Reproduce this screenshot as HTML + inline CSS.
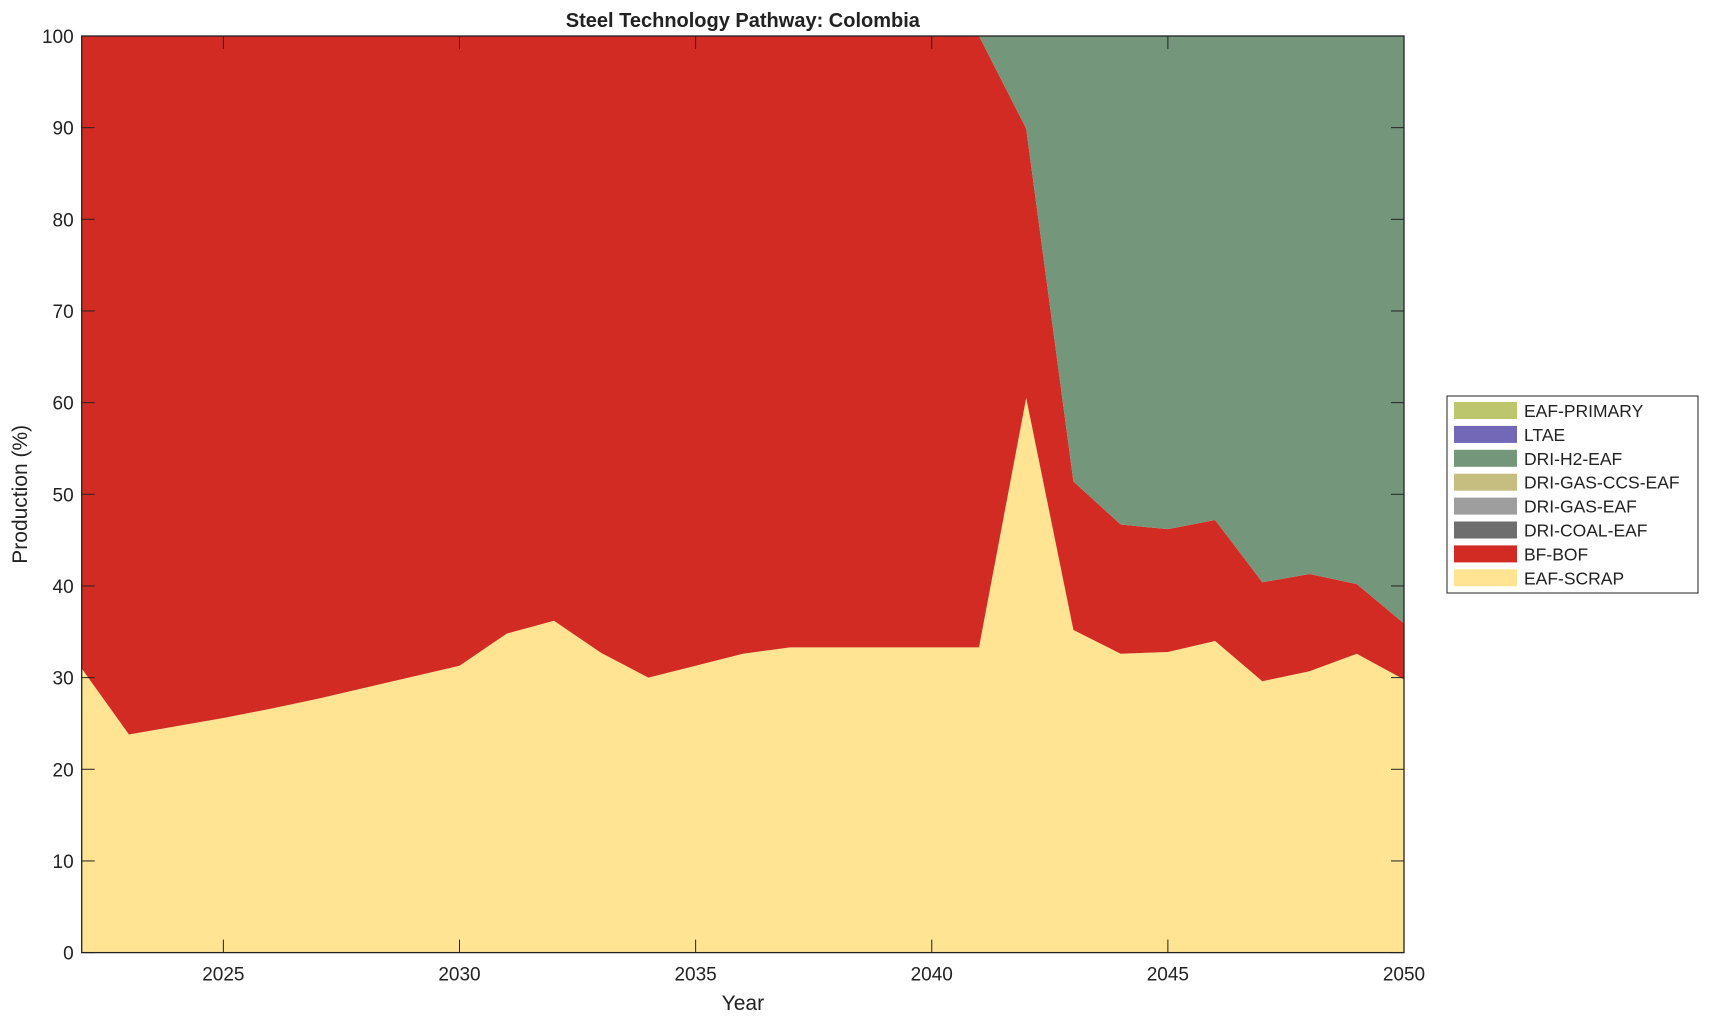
<!DOCTYPE html>
<html><head><meta charset="utf-8"><style>
body{margin:0;background:#fff;font-family:"Liberation Sans",Arial,sans-serif}
svg text{font-family:"Liberation Sans",Arial,sans-serif;fill:#222}
</style></head><body>
<svg id="c" width="1709" height="1021"></svg>
<script>
const years=[2022,2023,2024,2025,2026,2027,2028,2029,2030,2031,2032,2033,2034,2035,2036,2037,2038,2039,2040,2041,2042,2043,2044,2045,2046,2047,2048,2049,2050];
const eafScrap=[31,23.8,24.7,25.6,26.6,27.7,28.9,30.1,31.3,34.8,36.2,32.7,30,31.3,32.6,33.3,33.3,33.3,33.3,33.3,60.5,35.2,32.6,32.8,34,29.6,30.7,32.6,29.8];
const bfBof=[69,76.2,75.3,74.4,73.4,72.3,71.1,69.9,68.7,65.2,63.8,67.3,70,68.7,67.4,66.7,66.7,66.7,66.7,66.7,29.4,16.2,14.1,13.4,13.2,10.8,10.6,7.6,6.1];
const driH2=years.map((y,i)=>100-eafScrap[i]-bfBof[i]);
const xTicks=[2025,2030,2035,2040,2045,2050];
const yTicks=[0,10,20,30,40,50,60,70,80,90,100];
const legendLabels=["EAF-PRIMARY","LTAE","DRI-H2-EAF","DRI-GAS-CCS-EAF","DRI-GAS-EAF","DRI-COAL-EAF","BF-BOF","EAF-SCRAP"];
const legendColors=["#bcc66c","#7368b8","#74977c","#c6bd80","#9e9e9e","#6e6e6e","#d22b24","#fee493"];
const L=81.7,R=1404,T=36,B=952.6;
const sx=v=>L+(v-2022)/(2050-2022)*(R-L);
const sy=v=>B-v/100*(B-T);
const svg=document.getElementById('c');const NS='http://www.w3.org/2000/svg';
function el(t,a){const e=document.createElementNS(NS,t);for(const k in a)e.setAttribute(k,a[k]);svg.appendChild(e);return e;}
function area(lo,hi,color,name){
 let d='M'+years.map((y,i)=>sx(y)+','+sy(hi[i])).join('L');
 for(let i=years.length-1;i>=0;i--)d+='L'+sx(years[i])+','+sy(lo[i]);
 const p=el('path',{d:d+'Z',fill:color});
 
 
}
const z=years.map(()=>0);
const c1=eafScrap.slice();
const c2=years.map((y,i)=>eafScrap[i]+bfBof[i]);
const c3=years.map((y,i)=>c2[i]+driH2[i]);
area(z,c1,"#fee493","area-eaf-scrap");
area(c1,c2,"#d22b24","area-bf-bof");
area(c2,c3,"#74977c","area-dri-h2-eaf");
const f=el('rect',{x:L,y:T,width:R-L,height:B-T,fill:'none',stroke:'#222','stroke-width':1.3});

xTicks.forEach(v=>{
 el('line',{x1:sx(v),x2:sx(v),y1:B,y2:B-13,stroke:'#222'});el('line',{x1:sx(v),x2:sx(v),y1:T,y2:T+13,stroke:'#222'});
 const t=el('text',{x:sx(v),y:B+28,'text-anchor':'middle','font-size':19});t.textContent=v;
 
});
yTicks.forEach(v=>{
 el('line',{x1:L,x2:L+13,y1:sy(v),y2:sy(v),stroke:'#222'});el('line',{x1:R,x2:R-13,y1:sy(v),y2:sy(v),stroke:'#222'});
 const t=el('text',{x:L-8,y:sy(v)+7,'text-anchor':'end','font-size':19});t.textContent=v;
 
});
let t=el('text',{x:(L+R)/2,y:27,'text-anchor':'middle','font-size':20,'font-weight':'bold'});t.textContent='Steel Technology Pathway: Colombia';

t=el('text',{x:(L+R)/2,y:1010,'text-anchor':'middle','font-size':21});t.textContent='Year';

t=el('text',{x:0,y:0,'text-anchor':'middle','font-size':21,transform:'translate(27,'+(T+B)/2+') rotate(-90)'});t.textContent='Production (%)';

const lg=el('rect',{x:1447,y:396,width:251,height:197,fill:'#fff',stroke:'#222','stroke-width':1});

legendLabels.forEach((lab,i)=>{
 const y=402+i*23.9;
 const r=el('rect',{x:1454,y:y,width:63,height:17,fill:legendColors[i]});
 
 const tx=el('text',{x:1524,y:y+15,'font-size':17.5});tx.textContent=lab;
 
});
</script>
</body></html>
